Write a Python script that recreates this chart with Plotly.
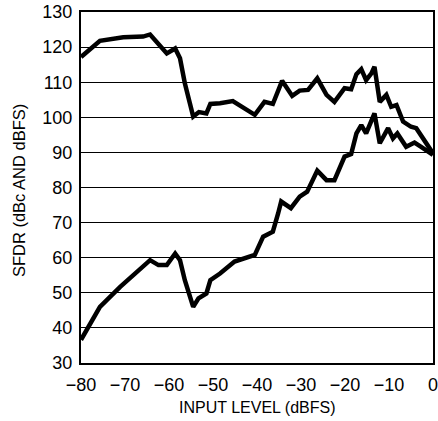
import plotly.graph_objects as go

x_dbc = [-80, -75.7, -70.4, -65.9, -64.3, -61.4, -60.5, -58.6, -57.5, -56.4, -54.5, -53.2, -51.5, -50.6,
         -48.4, -45.5, -40.5, -38.3, -36.4, -34.3, -32.0, -30.3, -28.4, -26.3, -24.2, -22.4, -20.1, -18.6,
         -17.4, -16.3, -15.2, -14.0, -13.3, -12.1, -10.6, -9.5, -8.3, -6.8, -5.0, -3.8, -1.9, 0]
y_dbc = [117.2, 121.8, 122.8, 123.0, 123.6, 119.2, 118.2, 119.6, 116.8, 109.7, 100.2, 101.5, 101.1, 103.8,
         104.0, 104.6, 100.7, 104.4, 103.8, 110.4, 106.1, 107.6, 107.8, 111.1, 106.4, 104.4, 108.3, 108.0,
         112.3, 113.7, 110.6, 112.5, 114.4, 104.4, 106.4, 103.0, 103.5, 98.8, 97.3, 96.9, 93.5, 89.7]

x_dbfs = [-80, -75.7, -71.1, -66.6, -64.3, -62.4, -60.5, -58.6, -57.5, -56.4, -54.5, -53.3, -51.5, -50.6,
          -48.4, -45.1, -40.5, -38.6, -36.4, -35.2, -34.5, -32.3, -30.3, -28.6, -26.3, -24.2, -22.4, -20.1,
          -18.6, -17.4, -16.3, -15.2, -13.3, -12.1, -10.2, -9.1, -8.1, -6.1, -4.2, -2.7, 0]
y_dbfs = [36.6, 46.0, 51.7, 56.5, 59.3, 57.9, 57.9, 61.2, 59.3, 53.6, 46.0, 48.4, 49.8, 53.6,
          55.5, 58.9, 60.8, 66.0, 67.4, 72.6, 76.0, 74.1, 77.4, 78.8, 84.8, 82.1, 82.1, 88.8,
          89.5, 95.4, 97.8, 95.4, 101.1, 92.6, 96.9, 94.0, 95.4, 91.6, 92.8, 91.6, 89.3]

x_ticks = [-80, -70, -60, -50, -40, -30, -20, -10, 0]
y_ticks = [30, 40, 50, 60, 70, 80, 90, 100, 110, 120, 130]
x_title = "INPUT LEVEL (dBFS)"
y_title = "SFDR (dBc AND dBFS)"

FONT = "Liberation Sans, Arial, Helvetica, sans-serif"

fig = go.Figure()
for xs, ys in [(x_dbc, y_dbc), (x_dbfs, y_dbfs)]:
    fig.add_trace(go.Scatter(x=xs, y=ys, mode="lines",
                             line=dict(color="black", width=4.5, shape="linear"),
                             showlegend=False, hoverinfo="skip"))

fig.update_layout(
    width=438, height=421,
    margin=dict(l=81, r=5, t=12, b=58),
    paper_bgcolor="white", plot_bgcolor="white",
    font=dict(family=FONT, size=16, color="black"),
)
fig.update_xaxes(range=[-80, 0], tickvals=x_ticks, showgrid=False, zeroline=False,
                 showline=True, linecolor="black", linewidth=2, mirror=True,
                 ticks="", automargin=False, ticklabelstandoff=4,
                 ticklabeloverflow="allow",
                 tickfont=dict(size=18))
fig.update_yaxes(range=[30, 130], tickvals=y_ticks, showgrid=True, gridcolor="black",
                 gridwidth=1, zeroline=False, showline=True, linecolor="black",
                 linewidth=2, mirror=True, ticks="", automargin=False, ticklabelstandoff=3,
                 ticklabeloverflow="allow",
                 tickfont=dict(size=18))

fig.add_annotation(text=x_title, xref="paper", yref="paper", x=0.5, y=-0.128,
                   xanchor="center", yanchor="middle", showarrow=False,
                   font=dict(size=16))
fig.add_annotation(text=y_title, xref="paper", yref="paper", x=-0.176, y=0.49,
                   xanchor="center", yanchor="middle", showarrow=False, textangle=-90,
                   font=dict(size=16.5))

fig.write_html("out.html", config={"displayModeBar": False},
               post_script="document.body.style.margin='0';document.body.style.overflow='hidden';")
